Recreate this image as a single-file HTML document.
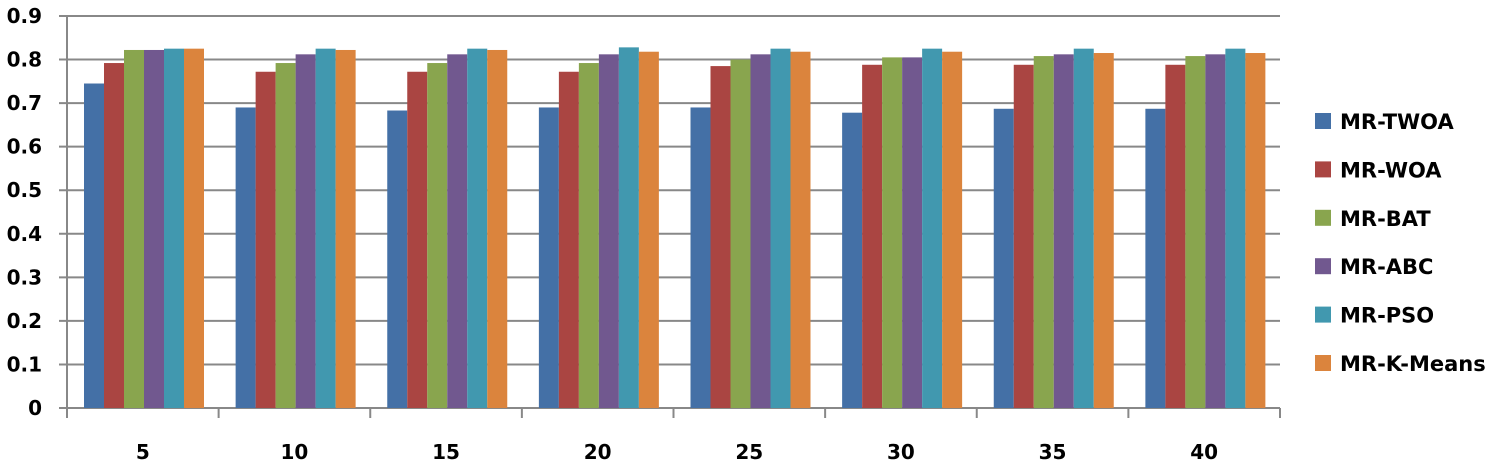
<!DOCTYPE html>
<html><head><meta charset="utf-8"><style>
body{margin:0;background:#fff;}
svg text{font-family:"DejaVu Sans","Liberation Sans",sans-serif;font-weight:bold;fill:#000;}
</style></head><body>
<svg id="chart" width="1500" height="469" xmlns="http://www.w3.org/2000/svg"></svg>
<script>
const categories=["5","10","15","20","25","30","35","40"];
const seriesNames=["MR-TWOA","MR-WOA","MR-BAT","MR-ABC","MR-PSO","MR-K-Means"];
const twoa=[0.745,0.69,0.683,0.69,0.69,0.678,0.687,0.687];
const woa=[0.792,0.772,0.772,0.772,0.785,0.788,0.788,0.788];
const bat=[0.822,0.792,0.792,0.792,0.800,0.805,0.808,0.808];
const abc=[0.822,0.812,0.812,0.812,0.812,0.805,0.812,0.812];
const pso=[0.825,0.825,0.825,0.828,0.825,0.825,0.825,0.825];
const kmeans=[0.825,0.822,0.822,0.818,0.818,0.818,0.815,0.815];
const yTicks=[0,0.1,0.2,0.3,0.4,0.5,0.6,0.7,0.8,0.9];
const colors=["#4470a6","#aa4542","#89a54e","#71588f","#4198af","#db843d"];
const series=[twoa,woa,bat,abc,pso,kmeans];
const NS="http://www.w3.org/2000/svg";
const svg=document.getElementById('chart');
const x0=67,x1=1280,y0=408,yTop=16,yMax=0.9;
const y=v=>y0-(v/yMax)*(y0-yTop);
const gw=(x1-x0)/categories.length;
const bw=20,off=17;
function mk(t,a){const e=document.createElementNS(NS,t);for(const k in a)e.setAttribute(k,a[k]);svg.appendChild(e);return e;}
yTicks.forEach((t,i)=>{
  const l=mk('line',{x1:x0-8,x2:x1,y1:y(t),y2:y(t),stroke:'#888','stroke-width':2});
  
  
  const tx=mk('text',{x:42,y:y(t)+7,'text-anchor':'end','font-size':20});
  tx.textContent=t===0?'0':t.toFixed(1);
  
  
});
const ax=mk('line',{x1:x0,x2:x0,y1:yTop,y2:y0+10,stroke:'#888','stroke-width':2});


categories.forEach((c,i)=>{
  const gx=x0+i*gw;
  series.forEach((s,j)=>{
    const r=mk('rect',{x:gx+off+j*bw,y:y(s[i]),width:bw,height:y0-y(s[i]),fill:colors[j]});
    
    
  });
  const tk=mk('line',{x1:gx+gw,x2:gx+gw,y1:y0,y2:y0+10,stroke:'#888','stroke-width':2});
  
  
  const tx=mk('text',{x:gx+gw/2,y:459,'text-anchor':'middle','font-size':20});
  tx.textContent=c;
  
  
});
seriesNames.forEach((n,j)=>{
  const ly=121+j*48.4;
  const r=mk('rect',{x:1315,y:ly-8,width:16,height:16,fill:colors[j]});
  
  
  const t=mk('text',{x:1340,y:ly+8,'font-size':21});
  t.textContent=n;
  
  
});
</script>
</body></html>
